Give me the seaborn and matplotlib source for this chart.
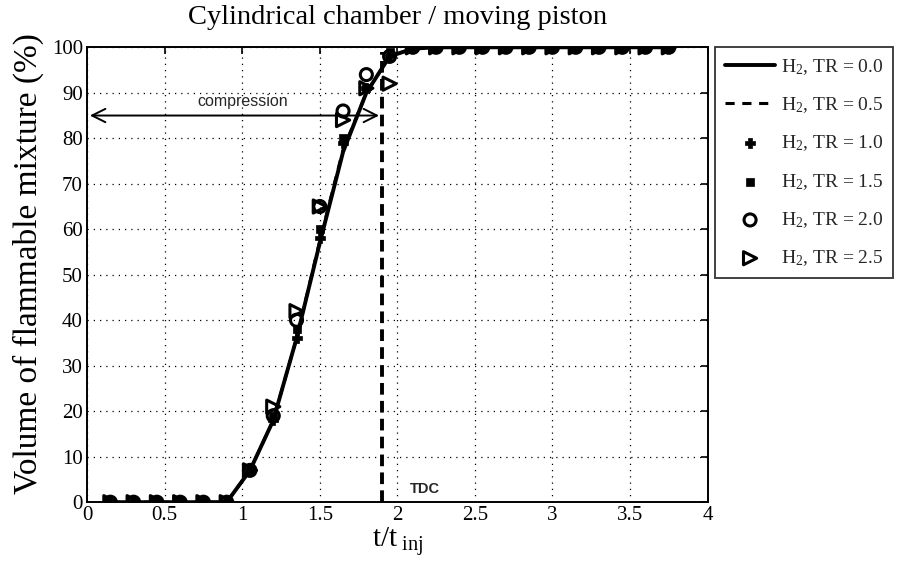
import numpy as np
import pandas as pd
import matplotlib
matplotlib.use("Agg")
import matplotlib.pyplot as plt
import seaborn as sns

# ---- data ----
t = [0.15, 0.30, 0.45, 0.60, 0.75, 0.90, 1.05, 1.20, 1.35, 1.50, 1.65, 1.80, 1.95,
     2.10, 2.25, 2.40, 2.55, 2.70, 2.85, 3.00, 3.15, 3.30, 3.45, 3.60, 3.75]
tr00 = [0, 0, 0, 0, 0, 0, 7, 18, 36, 57, 77, 90, 98, 99.7, 100, 100, 100, 100, 100, 100, 100, 100, 100, 100, 100]
tr05 = [0, 0, 0, 0, 0, 0, 7, 18, 36, 57.5, 77.5, 90, 98, 99.7, 100, 100, 100, 100, 100, 100, 100, 100, 100, 100, 100]
tr10 = [0, 0, 0, 0, 0, 0, 7, 18, 36, 58, 79, 91, 98, 100, 100, 100, 100, 100, 100, 100, 100, 100, 100, 100, 100]
tr15 = [0, 0, 0, 0, 0, 0, 7, 19, 38, 60, 80, 91, 99, 100, 100, 100, 100, 100, 100, 100, 100, 100, 100, 100, 100]
tr20 = [0, 0, 0, 0, 0, 0, 7, 19, 40, 65, 86, 94, 98, 100, 100, 100, 100, 100, 100, 100, 100, 100, 100, 100, 100]
tr25 = [0, 0, 0, 0, 0, 0, 7, 21, 42, 65, 84, 91, 92, 100, 100, 100, 100, 100, 100, 100, 100, 100, 100, 100, 100]
labels = ["H$_2$, TR = 0.0", "H$_2$, TR = 0.5", "H$_2$, TR = 1.0",
          "H$_2$, TR = 1.5", "H$_2$, TR = 2.0", "H$_2$, TR = 2.5"]
tdc = 1.9
compression_y = 85
xticks = [0, 0.5, 1, 1.5, 2, 2.5, 3, 3.5, 4]
xticklabels = ["0", "0.5", "1", "1.5", "2", "2.5", "3", "3.5", "4"]
yticks = list(range(0, 101, 10))

sns.set_theme(style="white")
serif = ["Liberation Serif", "DejaVu Serif"]
plt.rcParams["font.family"] = serif
plt.rcParams["mathtext.fontset"] = "custom"
plt.rcParams["mathtext.rm"] = "Liberation Serif"
plt.rcParams["mathtext.it"] = "Liberation Serif:italic"

fig = plt.figure(figsize=(8.98, 5.63), dpi=100)
ax = fig.add_axes([0.097, 0.108, 0.691, 0.808])

sns.lineplot(x=t, y=tr00, ax=ax, color="black", lw=2.8, label=labels[0])
sns.lineplot(x=t, y=tr05, ax=ax, color="black", lw=2.2, ls=(0, (3, 2.5)), label=labels[1])
sns.scatterplot(x=t, y=tr10, ax=ax, marker="P", s=60, color="black", edgecolor="black", linewidth=0.5, label=labels[2], zorder=5)
sns.scatterplot(x=t, y=tr15, ax=ax, marker="s", s=38, color="black", edgecolor="black", linewidth=0.5, label=labels[3], zorder=5)
sns.scatterplot(x=t, y=tr20, ax=ax, marker="o", s=75, facecolor="none", edgecolor="black", linewidth=2.2, label=labels[4], zorder=5)
sns.scatterplot(x=t, y=tr25, ax=ax, marker=">", s=90, facecolor="none", edgecolor="black", linewidth=2.2, label=labels[5], zorder=5)

ax.axvline(tdc, ymin=0, ymax=0.99, color="black", lw=2.8, ls=(0, (3, 1.6)))
ax.annotate("", xy=(0.0, compression_y), xytext=(tdc, compression_y),
            arrowprops=dict(arrowstyle="<->", color="black", lw=1.4, mutation_scale=24))
ax.text(1.0, compression_y + 1.5, "compression", ha="center", va="bottom",
        family=["Liberation Sans", "DejaVu Sans"], fontsize=11.5)
ax.text(2.08, 3.0, "TDC", ha="left", va="center",
        family=["Liberation Sans", "DejaVu Sans"], fontsize=10.5, fontweight="bold")

ax.set_xlim(0, 4)
ax.set_ylim(0, 100)
ax.set_xticks(xticks)
ax.set_xticklabels(xticklabels)
ax.set_yticks(yticks)
ax.tick_params(direction="in", length=5, width=1.2, top=True, right=True,
               labelsize=15, colors="black", pad=3)
ax.grid(True, color="black", ls=(0, (1, 4)), lw=0.9)
for sp in ax.spines.values():
    sp.set_color("black")
    sp.set_linewidth(1.4)

ax.set_title("Cylindrical chamber / moving piston", fontsize=20.5, pad=17, color="black")
ax.set_ylabel("Volume of flammable mixture (%)", fontsize=24, color="black")
ax.yaxis.set_label_coords(-0.07, 0.525)
ax.set_xlabel("t/t$_{\\ \\mathrm{inj}}$", fontsize=21, color="black", labelpad=0)

leg = ax.legend(loc="upper left", bbox_to_anchor=(1.012, 1.0), frameon=True,
                fontsize=14, handlelength=2.6, borderaxespad=0, labelspacing=0.95,
                fancybox=False, handletextpad=0.3, borderpad=0.5)
leg.get_frame().set_edgecolor("black")
leg.get_frame().set_linewidth(1.3)

fig.savefig("out.png", dpi=100, facecolor="white")
